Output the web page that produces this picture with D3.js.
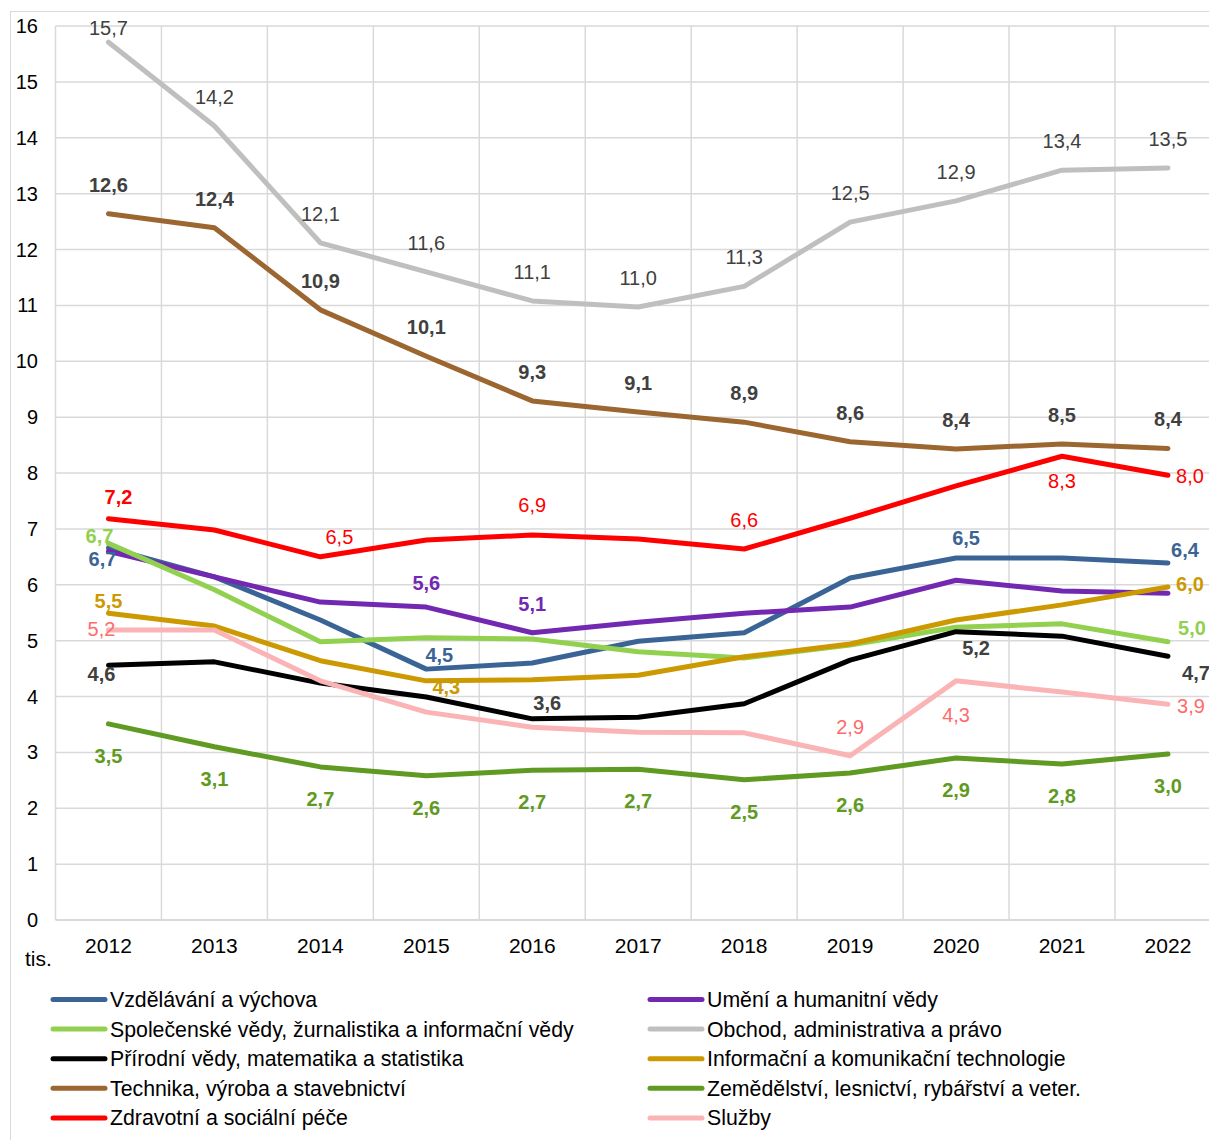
<!DOCTYPE html>
<html lang="cs">
<head>
<meta charset="utf-8">
<script src="https://cdn.jsdelivr.net/npm/d3@7"></script>
<style>
  html, body { margin: 0; padding: 0; background: #fff; }
  svg { display: block; font-family: "Liberation Sans", Arial, sans-serif; }
</style>
</head>
<body>
<svg id="chart" width="1209" height="1140"></svg>
<script>
// Absolventi podle oborů vzdělání (tis.), 2012–2022
const years = ["2012","2013","2014","2015","2016","2017","2018","2019","2020","2021","2022"];
const yTicks = [0,1,2,3,4,5,6,7,8,9,10,11,12,13,14,15,16];

const seriesNames = [
  "Vzdělávání a výchova",
  "Umění a humanitní vědy",
  "Společenské vědy, žurnalistika a informační vědy",
  "Obchod, administrativa a právo",
  "Přírodní vědy, matematika a statistika",
  "Informační a komunikační technologie",
  "Technika, výroba a stavebnictví",
  "Zemědělství, lesnictví, rybářství a veter.",
  "Zdravotní a sociální péče",
  "Služby"
];

const vzdelavani  = [6.66, 6.14, 5.37, 4.49, 4.60, 4.99, 5.14, 6.12, 6.48, 6.48, 6.39];
const umeni       = [6.60, 6.14, 5.69, 5.60, 5.14, 5.33, 5.49, 5.60, 6.08, 5.89, 5.85];
const spolecenske = [6.74, 5.91, 4.98, 5.05, 5.03, 4.80, 4.69, 4.92, 5.24, 5.30, 4.98];
const obchod      = [15.71, 14.21, 12.12, 11.60, 11.08, 10.97, 11.34, 12.49, 12.87, 13.42, 13.46];
const prirodni    = [4.56, 4.62, 4.24, 3.99, 3.60, 3.63, 3.87, 4.65, 5.16, 5.08, 4.72];
const ict         = [5.49, 5.26, 4.64, 4.28, 4.30, 4.38, 4.71, 4.94, 5.37, 5.64, 5.96];
const technika    = [12.64, 12.39, 10.92, 10.09, 9.29, 9.09, 8.91, 8.56, 8.43, 8.52, 8.44];
const zemedelstvi = [3.51, 3.10, 2.74, 2.58, 2.68, 2.70, 2.51, 2.63, 2.90, 2.79, 2.97];
const zdravotni   = [7.18, 6.98, 6.50, 6.80, 6.89, 6.82, 6.64, 7.19, 7.77, 8.30, 7.96];
const sluzby      = [5.19, 5.19, 4.28, 3.72, 3.45, 3.36, 3.35, 2.94, 4.28, 4.08, 3.86];

const seriesValues = [vzdelavani, umeni, spolecenske, obchod, prirodni, ict, technika, zemedelstvi, zdravotni, sluzby];

// Styling per series: line colour, label colour, bold labels
const lineColors  = ["#3A6496","#7228B0","#92D050","#BFBFBF","#000000","#CC9900","#9C6630","#5F9A22","#FF0000","#FBB4B6"];
const labelColors = ["#3A6496","#7228B0","#92D050","#404040","#404040","#CC9900","#404040","#5F9A22","#FF0000","#FF6B6B"];
const labelBold   = [true, true, true, false, true, true, true, true, false, false];

// Which points carry a value label, with the label's offset from the point
const A = -29, B = 32;
const labelLayout = [
  [[0,-6,11],[3,13,-14],[8,10,-20],[10,17,-13]],
  [[3,0,-24],[4,0,-29]],
  [[0,-9,-7],[10,24,-14]],
  [[0,0,-14],[1,0,A],[2,0,A],[3,0,A],[4,0,A],[5,0,A],[6,0,A],[7,0,A],[8,0,A],[9,0,A],[10,0,A]],
  [[0,-7,9],[4,15,-16],[8,20,16],[10,28,17]],
  [[0,0,-12],[3,20,6],[10,22,-3]],
  [[0,0,A],[1,0,A],[2,0,A],[3,0,A],[4,0,A],[5,0,A],[6,0,A],[7,0,A],[8,0,A],[9,0,A],[10,0,A]],
  [[0,0,B],[1,0,B],[2,0,B],[3,0,B],[4,0,B],[5,0,B],[6,0,B],[7,0,B],[8,0,B],[9,0,B],[10,0,B]],
  [[0,10,-22,true],[2,19,-20],[4,0,-30],[6,0,-29],[9,0,25],[10,22,1]],
  [[0,-7,-1],[7,0,-29],[8,0,34],[10,23,2]]
];

const svg = d3.select("#chart");
const gridColor = "#D9D9D9";
const tickFont = 20, axisFont = 21, legendFont = 21.3, labelFont = 20;

// Outer chart frame
svg.append("rect")
  .attr("x", 10.5).attr("y", 11.5)
  .attr("width", 1300).attr("height", 1200)
  .attr("fill", "none").attr("stroke", gridColor).attr("stroke-width", 1);

const plotLeft = 55.5, bandW = 105.95, plotTop = 26, plotBottom = 920;
const x = d3.scaleBand().domain(years).range([plotLeft, plotLeft + bandW * years.length]).padding(0);
const y = d3.scaleLinear().domain([0, 16]).range([plotBottom, plotTop]);
const cx = (i) => x(years[i]) + x.bandwidth() / 2;

// Horizontal gridlines
svg.append("g").selectAll("line").data(yTicks).join("line")
  .attr("x1", plotLeft).attr("x2", x.range()[1])
  .attr("y1", d => y(d)).attr("y2", d => y(d))
  .attr("stroke", gridColor).attr("stroke-width", d => d === 0 ? 2 : 1.5);

// Vertical gridlines at category boundaries
const bounds = years.map(yr => x(yr)).concat([x.range()[1]]);
svg.append("g").selectAll("line").data(bounds).join("line")
  .attr("x1", d => d).attr("x2", d => d)
  .attr("y1", plotTop).attr("y2", plotBottom)
  .attr("stroke", gridColor).attr("stroke-width", 1.5);

// Y axis labels
svg.append("g").selectAll("text").data(yTicks).join("text")
  .attr("x", 38).attr("y", d => y(d))
  .attr("dy", "0.35em").attr("text-anchor", "end")
  .attr("font-size", tickFont).attr("fill", "#000")
  .text(d => d);

// X axis labels
svg.append("g").selectAll("text").data(years).join("text")
  .attr("x", (d, i) => cx(i)).attr("y", 946)
  .attr("dy", "0.35em").attr("text-anchor", "middle")
  .attr("font-size", axisFont).attr("fill", "#000")
  .text(d => d);

svg.append("text")
  .attr("x", 25).attr("y", 959).attr("dy", "0.35em")
  .attr("font-size", axisFont).attr("fill", "#000")
  .text("tis.");

// Series lines
const line = d3.line().x((d, i) => cx(i)).y(d => y(d));
svg.append("g").selectAll("path").data(seriesValues).join("path")
  .attr("d", d => line(d))
  .attr("fill", "none")
  .attr("stroke", (d, i) => lineColors[i])
  .attr("stroke-width", 5)
  .attr("stroke-linejoin", "round")
  .attr("stroke-linecap", "round");

// Value labels
const fmt = v => d3.format(".1f")(v).replace(".", ",");
const labelData = [];
labelLayout.forEach((list, s) => {
  list.forEach(([i, dx, dy, forceBold]) => {
    labelData.push({ s, i, dx, dy, bold: forceBold || labelBold[s], v: seriesValues[s][i] });
  });
});
svg.append("g").selectAll("text").data(labelData).join("text")
  .attr("x", d => cx(d.i) + d.dx)
  .attr("y", d => y(d.v) + d.dy)
  .attr("dy", "0.35em").attr("text-anchor", "middle")
  .attr("font-size", labelFont)
  .attr("font-weight", d => d.bold ? "bold" : "normal")
  .attr("fill", d => labelColors[d.s])
  .text(d => fmt(d.v));

// Legend: two columns, filled row by row
const legend = svg.append("g");
const legendRow0 = 999.5, legendStep = 29.6;
seriesNames.forEach((name, i) => {
  const col = i % 2, row = Math.floor(i / 2);
  const lx = col === 0 ? 53 : 650;
  const ly = legendRow0 + row * legendStep;
  const g = legend.append("g").attr("transform", `translate(${lx},${ly})`);
  g.append("line")
    .attr("x1", 0).attr("x2", 52).attr("y1", 0).attr("y2", 0)
    .attr("stroke", lineColors[i]).attr("stroke-width", 5)
    .attr("stroke-linecap", "round");
  g.append("text")
    .attr("x", 57).attr("y", 0).attr("dy", "0.35em")
    .attr("font-size", legendFont).attr("fill", "#000")
    .text(name);
});
</script>
</body>
</html>
